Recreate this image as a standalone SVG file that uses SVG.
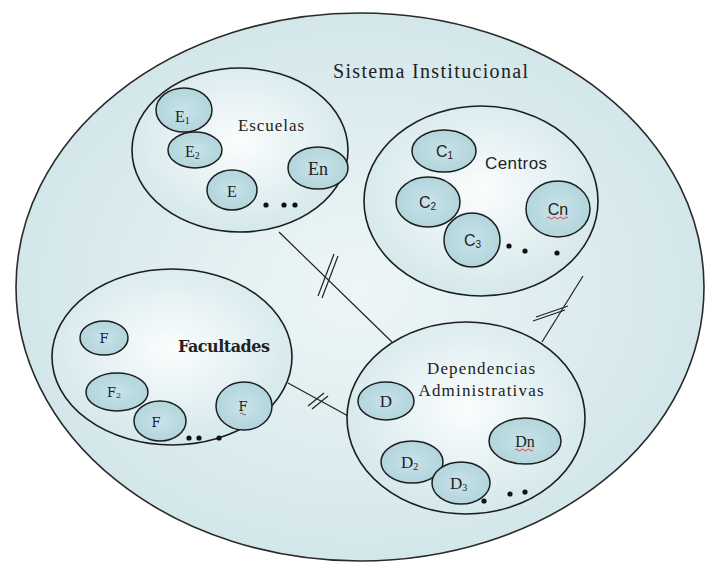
<svg xmlns="http://www.w3.org/2000/svg" width="708" height="565" viewBox="0 0 708 565">
<defs>
<radialGradient id="gOuter" cx="50%" cy="50%" r="50%">
<stop offset="0" stop-color="#eef6f7"/>
<stop offset="1" stop-color="#d3e7eb"/>
</radialGradient>
<radialGradient id="gInner" cx="50%" cy="45%" r="55%">
<stop offset="0" stop-color="#fbfdfd"/>
<stop offset="1" stop-color="#d4e8ec"/>
</radialGradient>
<radialGradient id="gSmall" cx="50%" cy="50%" r="50%">
<stop offset="0" stop-color="#c8e3e8"/>
<stop offset="1" stop-color="#b2d5dc"/>
</radialGradient>
</defs>
<style>
.outer{fill:url(#gOuter);stroke:#2a2a2a;stroke-width:1.6}
.big{fill:url(#gInner);stroke:#1e1e1e;stroke-width:1.6}
.sm{fill:url(#gSmall);stroke:#1e1e1e;stroke-width:1.5}
.serif{font-family:"Liberation Serif","Times New Roman",serif;fill:#222}
.sans{font-family:"Liberation Sans",Arial,sans-serif;fill:#222}
.fslab{font-family:"DejaVu Serif",serif;fill:#222}
.slab{font-family:"DejaVu Serif",serif;fill:#222}
.dot{fill:#111}
.con{stroke:#222;stroke-width:1.2;fill:none}
.sq{stroke:#d03030;stroke-width:0.9;fill:none}
</style>
<rect width="708" height="565" fill="#ffffff"/>

<g id="sistema">
<ellipse class="outer" cx="360" cy="287" rx="344" ry="274"/>
<text class="serif" x="333" y="78" font-size="20" textLength="195">Sistema Institucional</text>
</g>

<g id="connectors">
<line class="con" x1="279" y1="232" x2="392" y2="342"/>
<line class="con" x1="318" y1="296" x2="334" y2="254"/>
<line class="con" x1="322" y1="298" x2="338" y2="256"/>
<line class="con" x1="583" y1="276" x2="542" y2="342"/>
<line class="con" x1="533" y1="321" x2="565" y2="310"/>
<line class="con" x1="536" y1="317" x2="568" y2="306"/>
<line class="con" x1="288" y1="383" x2="350" y2="417"/>
<line class="con" x1="308" y1="406" x2="324" y2="393"/>
<line class="con" x1="312" y1="409" x2="328" y2="396"/>
</g>

<g id="escuelas">
<ellipse class="big" cx="240" cy="150" rx="108" ry="82"/>
<text class="serif" x="271" y="131" font-size="17" text-anchor="middle" textLength="66">Escuelas</text>
</g>
<g id="e1">
<ellipse class="sm" cx="184" cy="110" rx="28" ry="22"/>
<text class="serif" x="175" y="122" font-size="16">E<tspan font-size="10" dy="2">1</tspan></text>
</g>
<g id="e2">
<ellipse class="sm" cx="195" cy="150" rx="27" ry="18"/>
<text class="serif" x="185" y="157" font-size="16">E<tspan font-size="10" dy="2">2</tspan></text>
</g>
<g id="e3">
<ellipse class="sm" cx="232" cy="190" rx="25" ry="20"/>
<text class="serif" x="232" y="197" font-size="16" text-anchor="middle">E</text>
</g>
<g id="en">
<ellipse class="sm" cx="318" cy="168" rx="30" ry="21"/>
<text class="serif" x="318" y="175" font-size="18" text-anchor="middle">En</text>
</g>
<g id="escuelas-dots">
<circle class="dot" cx="266" cy="205" r="2.6"/>
<circle class="dot" cx="284" cy="205" r="2.6"/>
<circle class="dot" cx="295" cy="205" r="2.6"/>
</g>

<g id="centros">
<ellipse class="big" cx="481" cy="201" rx="117" ry="95"/>
<text class="sans" x="516" y="169" font-size="17" text-anchor="middle" textLength="62">Centros</text>
</g>
<g id="c1">
<ellipse class="sm" cx="444" cy="151" rx="32" ry="21"/>
<text class="sans" x="436" y="157" font-size="16">C<tspan font-size="10" dy="2">1</tspan></text>
</g>
<g id="c2">
<ellipse class="sm" cx="428" cy="202" rx="32" ry="25"/>
<text class="sans" x="419" y="208" font-size="16">C<tspan font-size="10" dy="2">2</tspan></text>
</g>
<g id="c3">
<ellipse class="sm" cx="472" cy="240" rx="28" ry="27"/>
<text class="sans" x="464" y="246" font-size="16">C<tspan font-size="10" dy="2">3</tspan></text>
</g>
<g id="cn">
<ellipse class="sm" cx="558" cy="209" rx="32" ry="28"/>
<text class="sans" x="558" y="215" font-size="16" text-anchor="middle">Cn</text>
<path class="sq" d="M547,218 q1.5,-2 3,0 t3,0 t3,0 t3,0 t3,0 t3,0 t3,0"/>
</g>
<g id="centros-dots">
<circle class="dot" cx="509" cy="246" r="2.6"/>
<circle class="dot" cx="525" cy="251" r="2.6"/>
<circle class="dot" cx="557" cy="253" r="2.6"/>
</g>

<g id="facultades">
<ellipse class="big" cx="172" cy="357" rx="120" ry="88"/>
<text class="slab" x="178" y="352" font-size="16" font-weight="bold" textLength="92">Facultades</text>
</g>
<g id="f1">
<ellipse class="sm" cx="104" cy="338" rx="24" ry="17"/>
<text class="fslab" x="104" y="343" font-size="13" text-anchor="middle">F</text>
</g>
<g id="f2">
<ellipse class="sm" cx="117" cy="392" rx="31" ry="19"/>
<text class="fslab" x="107" y="397" font-size="13">F<tspan font-size="8" dy="1">2</tspan></text>
</g>
<g id="f3">
<ellipse class="sm" cx="160" cy="421" rx="26" ry="20"/>
<text class="fslab" x="156" y="427" font-size="13" text-anchor="middle">F</text>
</g>
<g id="fn">
<ellipse class="sm" cx="244" cy="406" rx="28" ry="24"/>
<text class="fslab" x="243" y="411" font-size="13" text-anchor="middle">F</text>
<path class="sq" d="M240,414 q1.5,-2 3,0 t3,0"/>
</g>
<g id="facultades-dots">
<circle class="dot" cx="189" cy="438" r="2.6"/>
<circle class="dot" cx="199" cy="438" r="2.6"/>
<circle class="dot" cx="219" cy="438" r="2.6"/>
</g>

<g id="dependencias">
<ellipse class="big" cx="466" cy="418" rx="119" ry="96"/>
<text class="serif" x="481" y="374" font-size="17" text-anchor="middle" textLength="108">Dependencias</text>
<text class="serif" x="481" y="396" font-size="17" text-anchor="middle" textLength="125">Administrativas</text>
</g>
<g id="d1">
<ellipse class="sm" cx="386" cy="401" rx="28" ry="19"/>
<text class="serif" x="386" y="407" font-size="17" text-anchor="middle">D</text>
</g>
<g id="d2">
<ellipse class="sm" cx="412" cy="462" rx="31" ry="21"/>
<text class="serif" x="401" y="468" font-size="17">D<tspan font-size="10" dy="2">2</tspan></text>
</g>
<g id="d3">
<ellipse class="sm" cx="461" cy="483" rx="29" ry="21"/>
<text class="serif" x="450" y="489" font-size="17">D<tspan font-size="10" dy="2">3</tspan></text>
</g>
<g id="dn">
<ellipse class="sm" cx="525" cy="441" rx="36" ry="23"/>
<text class="serif" x="525" y="447" font-size="16" text-anchor="middle">Dn</text>
<path class="sq" d="M515,450 q1.5,-2 3,0 t3,0 t3,0 t3,0 t3,0 t3,0"/>
</g>
<g id="dependencias-dots">
<circle class="dot" cx="484" cy="501" r="2.6"/>
<circle class="dot" cx="510" cy="494" r="2.6"/>
<circle class="dot" cx="525" cy="492" r="2.6"/>
</g>
</svg>
